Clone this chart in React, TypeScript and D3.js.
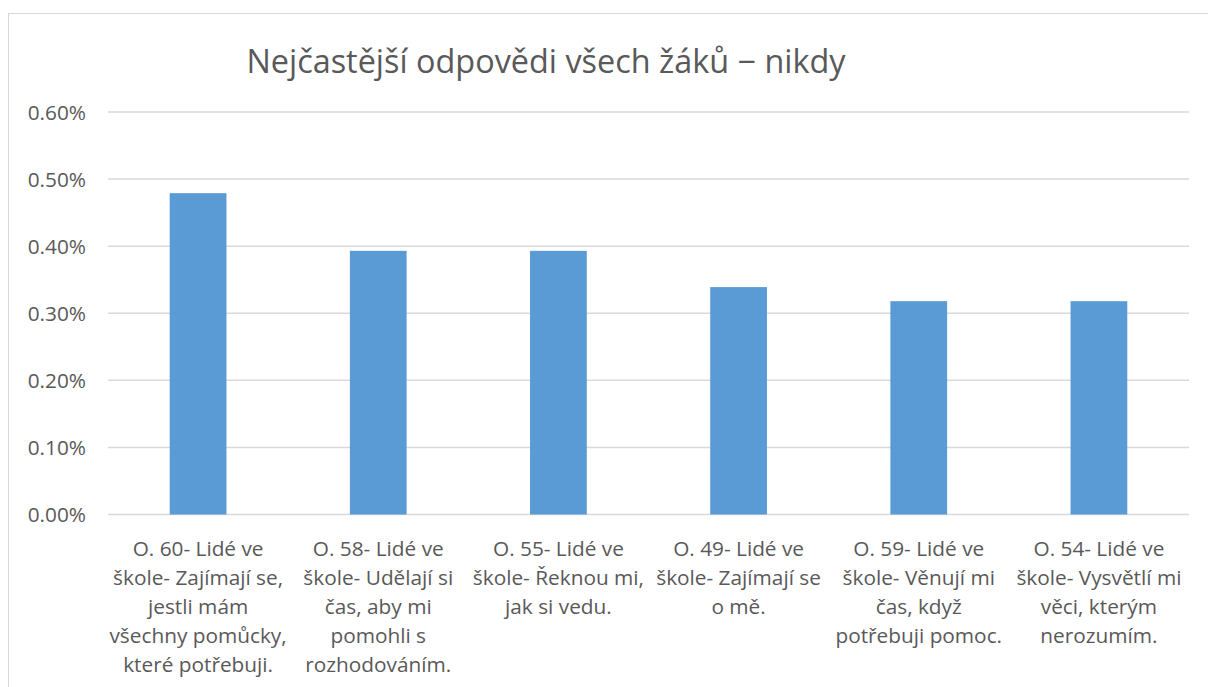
import React from "react";
import * as d3 from "d3";

const categories: string[][] = [
  ["O. 60- Lidé ve", "škole- Zajímají se,", "jestli mám", "všechny pomůcky,", "které potřebuji."],
  ["O. 58- Lidé ve", "škole- Udělají si", "čas, aby mi", "pomohli s", "rozhodováním."],
  ["O. 55- Lidé ve", "škole- Řeknou mi,", "jak si vedu."],
  ["O. 49- Lidé ve", "škole- Zajímají se", "o mě."],
  ["O. 59- Lidé ve", "škole- Věnují mi", "čas, když", "potřebuji pomoc."],
  ["O. 54- Lidé ve", "škole- Vysvětlí mi", "věci, kterým", "nerozumím."],
];
const values: number[] = [0.00479, 0.00393, 0.00393, 0.00339, 0.00318, 0.00318];
const yTicks: number[] = [0, 0.001, 0.002, 0.003, 0.004, 0.005, 0.006];
const title = "Nejčastější odpovědi všech žáků − nikdy";

export default function App() {
  const W = 1208, H = 687;
  const left = 108, right = 1189, top = 112, bottom = 514.5;
  const x = d3.scaleBand<number>().domain(d3.range(categories.length)).range([left, right]).paddingInner(0.685).paddingOuter(0.3425);
  const y = d3.scaleLinear().domain([0, 0.006]).range([bottom, top]);
  const font = "'Open Sans', sans-serif";
  const grey = "#595959";
  return (
    <svg width={W} height={H} style={{ position: "absolute", left: 0, top: 0 }}>
      <rect x={0} y={0} width={W} height={H} fill="#fff" />
      <rect x={8.5} y={13.5} width={W + 10} height={H + 10} fill="none" stroke="#d9d9d9" strokeWidth={1} />
      <text x={546} y={73} textAnchor="middle" fontFamily={font} fontSize={32.4} fill={grey}>{title}</text>
      {yTicks.map((t) => (
        <g key={t}>
          <line x1={left} x2={right} y1={y(t)} y2={y(t)} stroke="#d9d9d9" strokeWidth={1.5} />
          <text x={86} y={y(t) + 7.5} textAnchor="end" fontFamily={font} fontSize={20.8} fill={grey}>{d3.format(".2%")(t)}</text>
        </g>
      ))}
      {values.map((v, i) => (
        <rect key={i} x={x(i)} y={y(v)} width={x.bandwidth()} height={y(0) - y(v)} fill="#5B9BD5" />
      ))}
      {categories.map((lines, i) => (
        <text key={i} textAnchor="middle" fontFamily={font} fontSize={20.8} fill={grey}>
          {lines.map((l, j) => (
            <tspan key={j} x={(x(i) as number) + x.bandwidth() / 2} y={555.5 + j * 29}>{l}</tspan>
          ))}
        </text>
      ))}
    </svg>
  );
}
